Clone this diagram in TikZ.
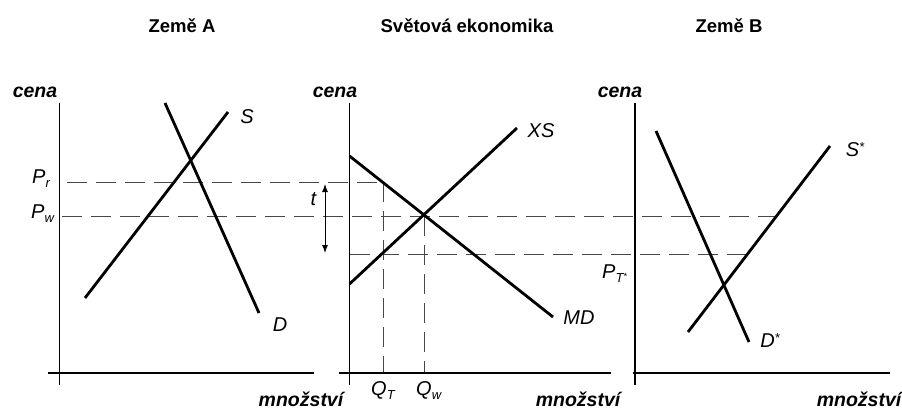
\documentclass[tikz,border=0pt]{standalone}
\usepackage{fontspec}
\setmainfont{Liberation Sans}
\usetikzlibrary{arrows.meta}
\definecolor{dashgray}{RGB}{70,70,70}
\newcommand{\lsub}[1]{\raisebox{-4.5pt}{\fontsize{13}{13}\selectfont #1}}
\newcommand{\lstar}{\raisebox{5pt}{\fontsize{13}{13}\selectfont *}}
\newcommand{\tstar}{\raisebox{-4.5pt}{\fontsize{13}{13}\selectfont T\raisebox{3pt}{\fontsize{9}{9}\selectfont *}}}
\begin{document}
\begin{tikzpicture}[x=1pt,y=-1pt,
  curve/.style={line width=2.8pt},
  axis/.style={line width=1.2pt},
  guide/.style={line width=1pt, draw=dashgray, dash pattern=on 20pt off 9pt},
  ttl/.style={font=\fontsize{18.5}{20}\selectfont\bfseries, inner sep=0},
  axlbl/.style={font=\fontsize{19.5}{22}\selectfont\bfseries\itshape, inner sep=0, anchor=base},
  lbl/.style={font=\fontsize{20}{22}\selectfont\itshape, inner sep=0}
]
\useasboundingbox (0,0) rectangle (902,409);

% titles
\node[ttl] (tA) at (182,26) {Země A};
\node[ttl] (tW) at (467,26) {Světová ekonomika};
\node[ttl] (tB) at (729,26) {Země B};

% axis labels
\node[axlbl] (cA) at (35,98) {cena};
\node[axlbl] (cW) at (335,98) {cena};
\node[axlbl] (cB) at (620,98) {cena};
\node[axlbl] (mA) at (301,406) {množství};
\node[axlbl] (mW) at (578,406) {množství};
\node[axlbl] (mB) at (859,406) {množství};

% dashed guides (drawn first)
\coordinate (pr1) at (67,182);
\coordinate (pr2) at (383,182);
\coordinate (pw1) at (62,216);
\coordinate (pw2) at (775,216);
\coordinate (pt1) at (350,254.5);
\coordinate (pt2) at (747,254.5);
\coordinate (qT) at (383,373);
\coordinate (qw1) at (424,216);
\coordinate (qw) at (424,373);
\draw[guide] (pr1) -- (pr2);
\draw[guide] (pw1) -- (pw2);
\draw[guide] (pt1) -- (pt2);
\draw[guide] (pr2) -- (qT);
\draw[guide] (qw1) -- (qw);

% axes
\draw[axis] (59.5,103) -- (59.5,385);
\draw[axis] (48,373) -- (314,373);
\draw[axis] (349.5,103) -- (349.5,385);
\draw[axis] (339,373) -- (611,373);
\draw[axis] (635,103) -- (635,385);
\draw[axis] (633,373) -- (890,373);

% country A
\coordinate (S1) at (85,298);
\coordinate (S2) at (228,112);
\coordinate (D1) at (165,103);
\coordinate (D2) at (259,313);
\draw[curve] (S1) -- (S2);
\draw[curve] (D1) -- (D2);
\node[lbl] (lS) at (247,117) {S};
\node[lbl] (lD) at (280,325) {D};
\node[lbl, anchor=base west] (lPr) at (32,183) {P\lsub{r}};
\node[lbl, anchor=base west] (lPw) at (31,218) {P\lsub{w}};

% world
\coordinate (MD1) at (349.5,156);
\coordinate (MD2) at (553,317);
\coordinate (XS1) at (349.5,284);
\coordinate (XS2) at (517,128);
\draw[curve] (MD1) -- (MD2);
\draw[curve] (XS1) -- (XS2);
\node[lbl] (lXS) at (541,130.5) {XS};
\node[lbl] (lMD) at (579,318) {MD};
\node[lbl, anchor=base west] (lQT) at (371,395) {Q\lsub{T}};
\node[lbl, anchor=base west] (lQw) at (416,395) {Q\lsub{w}};
\node[lbl, anchor=base] (lt) at (313.5,205) {t};
\coordinate (ta) at (325,184);
\coordinate (tb) at (325,253);
\draw[line width=1pt, {Latex[length=8pt,width=6pt]}-{Latex[length=8pt,width=6pt]}] (ta) -- (tb);

% country B
\coordinate (Ds1) at (656,131);
\coordinate (Ds2) at (749,342);
\coordinate (Ss1) at (688,332);
\coordinate (Ss2) at (830,146);
\draw[curve] (Ds1) -- (Ds2);
\draw[curve] (Ss1) -- (Ss2);
\node[lbl] (lSs) at (855,150) {S\lstar};
\node[lbl] (lDs) at (770,341) {D\lstar};
\node[lbl, anchor=base west] (lPT) at (602,278) {P\tstar};
\end{tikzpicture}
\end{document}
